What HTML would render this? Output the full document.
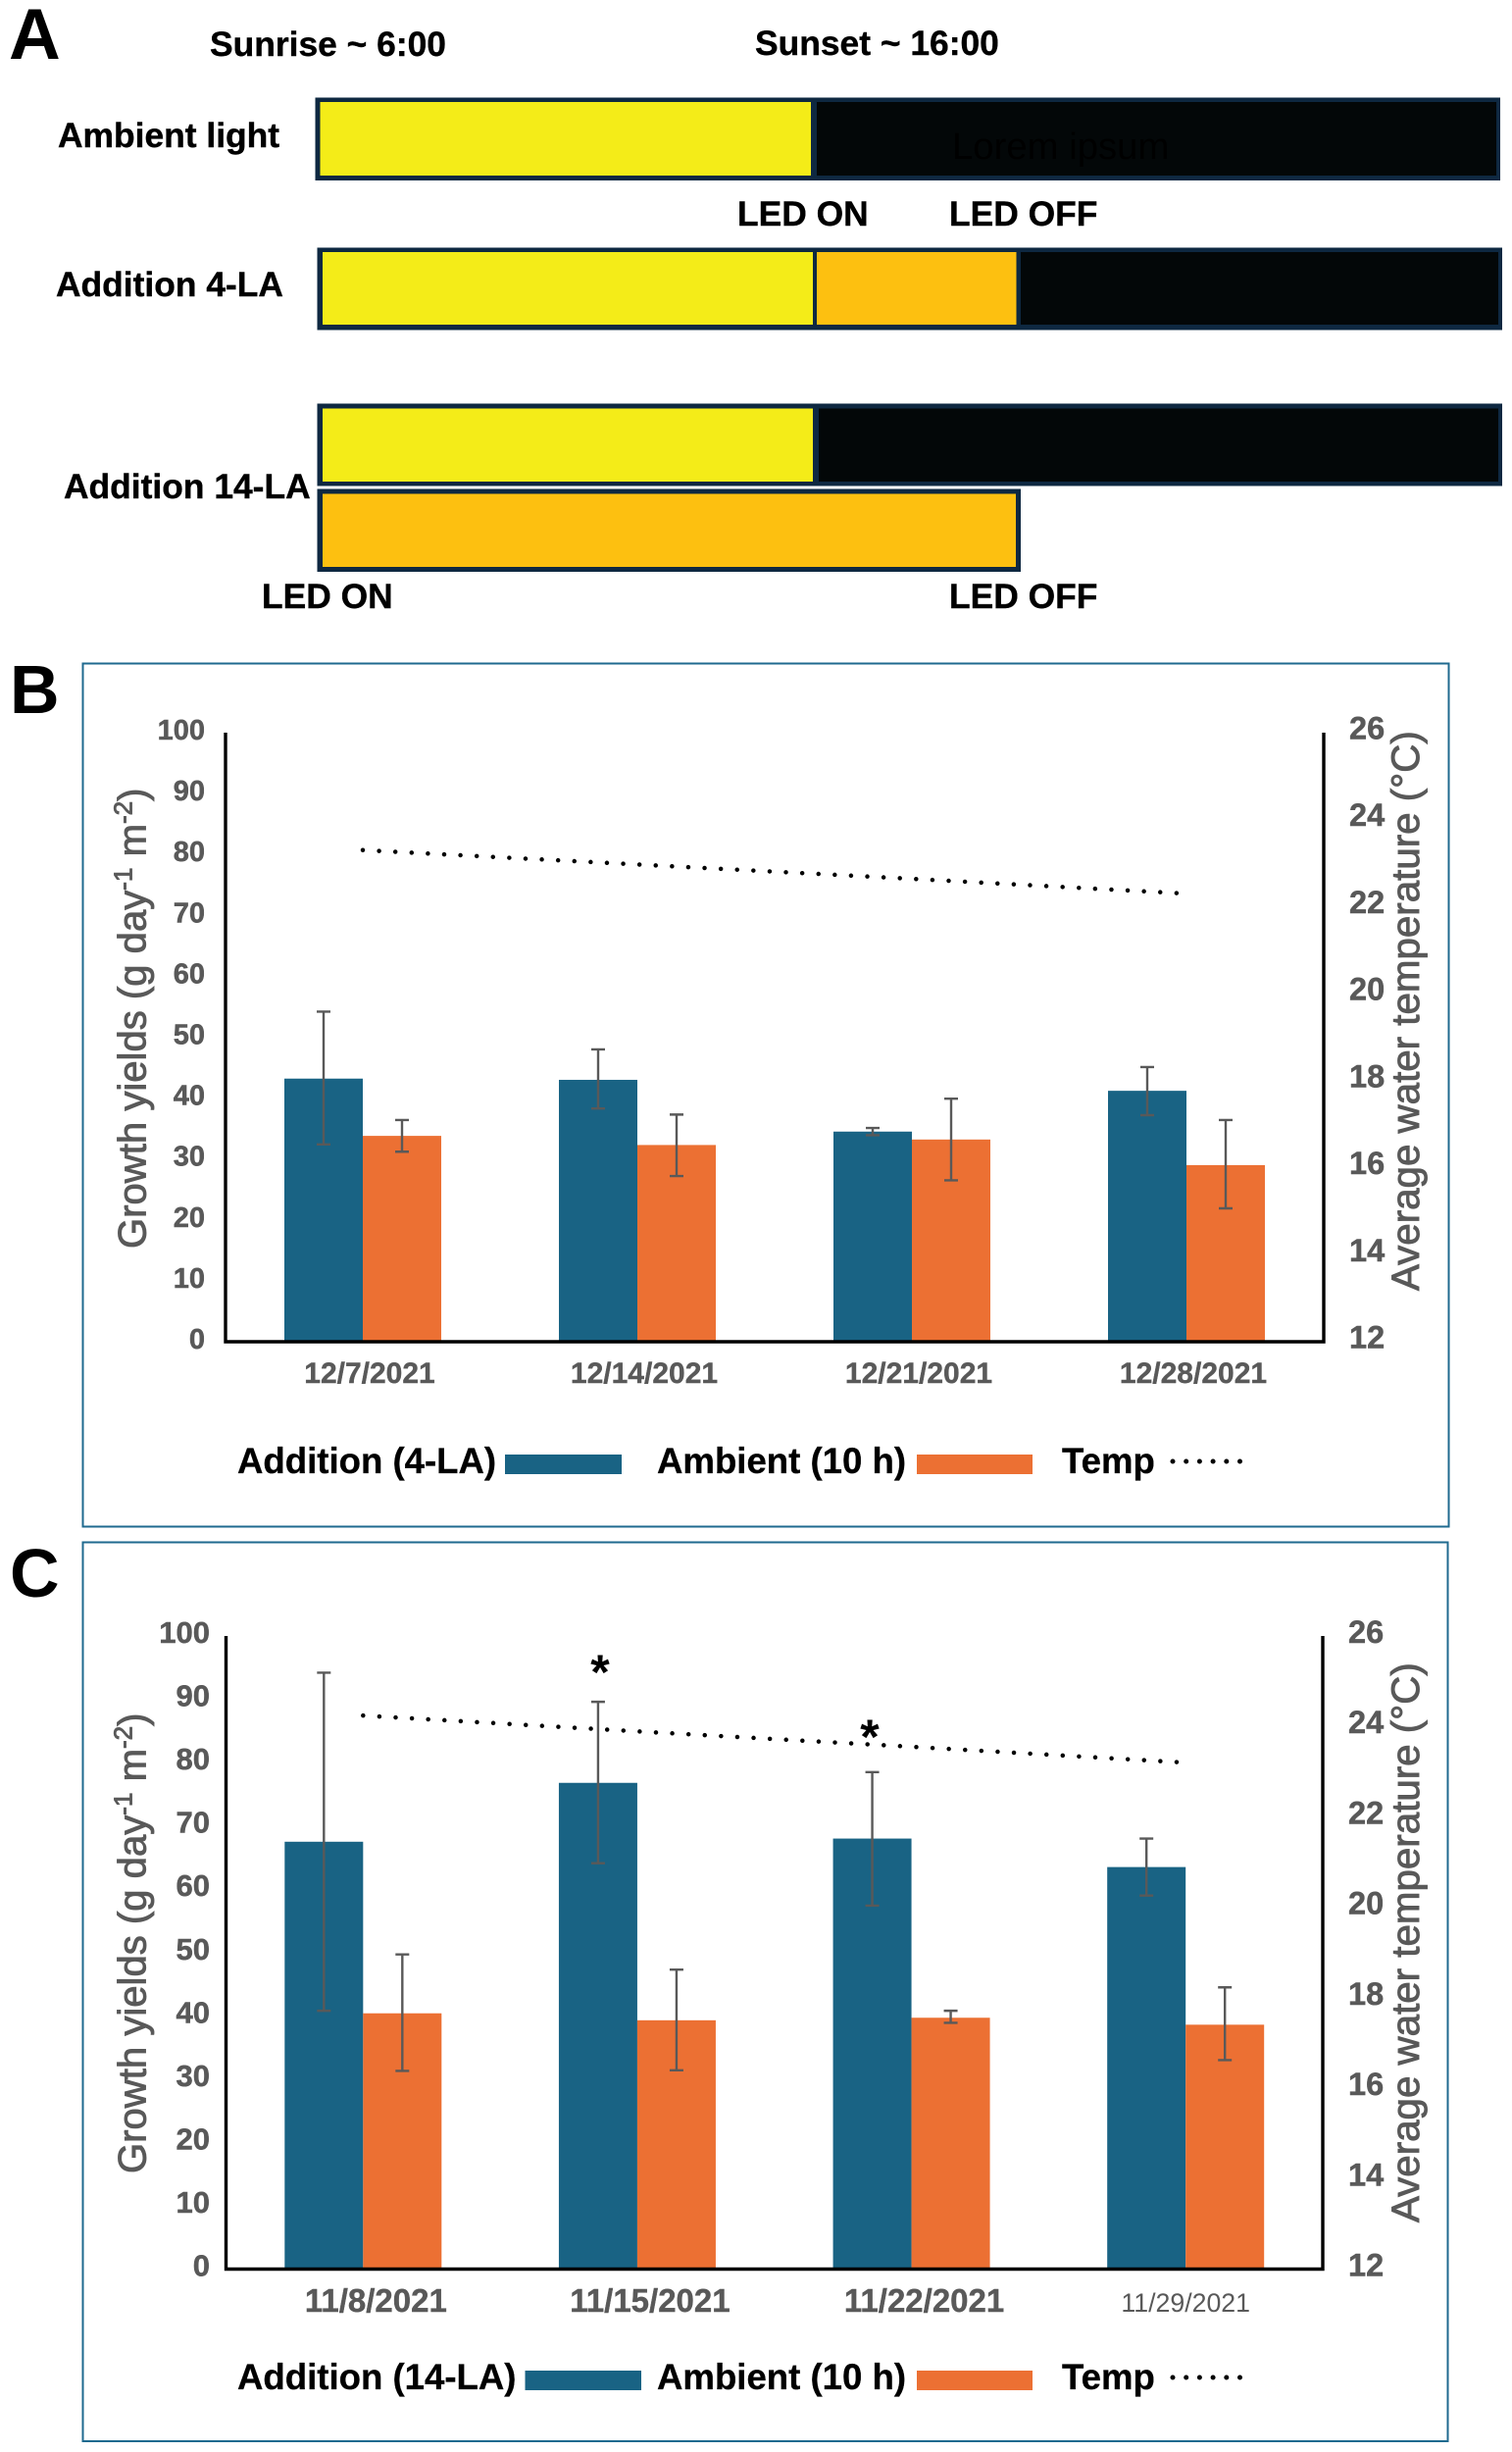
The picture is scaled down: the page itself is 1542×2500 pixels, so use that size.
<!DOCTYPE html>
<html lang="en">
<head>
<meta charset="utf-8">
<title>LED light addition and growth yields</title>
<style>
html,body{margin:0;padding:0;background:#fff;width:1542px;height:2500px;overflow:hidden}
svg{display:block}
text{font-family:"Liberation Sans",sans-serif}
.lab{font-weight:700;font-size:35.4px;fill:#000;stroke:#000;stroke-width:.4px}
.panel{font-weight:700;fill:#000}
.title{font-size:40.1px;fill:#595959;stroke:#595959;stroke-width:.9px}
.title-right{font-size:40.3px}
.leg{font-weight:700;font-size:36.6px;fill:#000;stroke:#000;stroke-width:.3px}
.tick{fill:#595959}
</style>
</head>
<body>
<svg id="figure" width="1542" height="2500" viewBox="0 0 1542 2500" xmlns="http://www.w3.org/2000/svg">
  <rect width="1542" height="2500" fill="#fff"/>

  <!-- Panel A -->
  <g>
    <text class="panel" x="9" y="60" font-size="73">A</text>
    <text class="lab" x="214" y="57">Sunrise ~ 6:00</text>
    <text class="lab" x="770" y="56">Sunset ~ 16:00</text>
    <text class="lab" x="59" y="150">Ambient light</text>
    <text class="lab" x="57" y="302">Addition 4-LA</text>
    <text class="lab" x="65" y="508">Addition 14-LA</text>
    <text class="lab" x="752" y="230">LED ON</text>
    <text class="lab" x="968" y="230">LED OFF</text>
    <text class="lab" x="267" y="620">LED ON</text>
    <text class="lab" x="968" y="620">LED OFF</text>

    <g>
      <rect x="321.5" y="99.5" width="1208.5" height="84.5" fill="#0e2841"/>
      <rect x="326.5" y="104" width="500.5" height="75" fill="#f4ec18"/>
      <rect x="833" y="104" width="693" height="75" fill="#030708"/>
      <text x="971" y="162" font-size="38.3" fill="#000">Lorem ipsum</text>
    </g>
    <g>
      <rect x="323.5" y="252.5" width="1208.5" height="84" fill="#0e2841"/>
      <rect x="329" y="257" width="500" height="74" fill="#f4ec18"/>
      <rect x="833" y="257" width="203.5" height="74" fill="#fdc010"/>
      <rect x="1041" y="257" width="487" height="74" fill="#030708"/>
    </g>
    <g>
      <rect x="323.5" y="411.5" width="1208.5" height="84" fill="#0e2841"/>
      <rect x="329" y="416.5" width="500" height="74.5" fill="#f4ec18"/>
      <rect x="835" y="416.5" width="693" height="74.5" fill="#030708"/>
    </g>
    <g>
      <rect x="323.5" y="498.5" width="717.5" height="84.5" fill="#0e2841"/>
      <rect x="329" y="503.5" width="707" height="74.5" fill="#fdc010"/>
    </g>
  </g>

  <!-- Panel B static -->
  <g id="panel-b">
    <rect x="84.5" y="676.5" width="1393" height="880" fill="none" stroke="#1f6a8f" stroke-width="2"/>
    <text class="panel" x="10" y="727" font-size="70">B</text>
    <text class="title" transform="translate(148.5 1273) rotate(-90)">Growth yields (g day<tspan dy="-14" font-size="26">-1</tspan><tspan dy="14"> m</tspan><tspan dy="-14" font-size="26">-2</tspan><tspan dy="14">)</tspan></text>
    <text class="title title-right" transform="translate(1447 1316) rotate(-90)">Average water temperature (°C)</text>
    <text class="leg" x="242" y="1502">Addition (4-LA)</text>
    <rect x="515" y="1483" width="119" height="20" fill="#196384"/>
    <text class="leg" x="670" y="1502">Ambient (10 h)</text>
    <rect x="935" y="1483" width="118" height="20" fill="#ec7033"/>
    <text class="leg" x="1083" y="1502">Temp</text>
    <line x1="1196" y1="1490" x2="1265" y2="1490" stroke="#000" stroke-width="5" stroke-linecap="round" stroke-dasharray="0 13.7"/>
  </g>

  <!-- Panel C static -->
  <g id="panel-c">
    <rect x="84.5" y="1572.5" width="1392" height="916.5" fill="none" stroke="#1f6a8f" stroke-width="2"/>
    <text class="panel" x="10" y="1628" font-size="70">C</text>
    <text class="title" transform="translate(148.5 2216) rotate(-90)">Growth yields (g day<tspan dy="-14" font-size="26">-1</tspan><tspan dy="14"> m</tspan><tspan dy="-14" font-size="26">-2</tspan><tspan dy="14">)</tspan></text>
    <text class="title title-right" transform="translate(1447 2266) rotate(-90)">Average water temperature (°C)</text>
    <text class="leg" x="242" y="2436">Addition (14-LA)</text>
    <rect x="535.5" y="2417" width="118.5" height="20" fill="#196384"/>
    <text class="leg" x="670" y="2436">Ambient (10 h)</text>
    <rect x="935" y="2417" width="118" height="20" fill="#ec7033"/>
    <text class="leg" x="1083" y="2436">Temp</text>
    <line x1="1196" y1="2424" x2="1265" y2="2424" stroke="#000" stroke-width="5" stroke-linecap="round" stroke-dasharray="0 13.7"/>
    <text x="612" y="1722" font-size="50" font-weight="700" text-anchor="middle" fill="#000">*</text>
    <text x="887" y="1788" font-size="50" font-weight="700" text-anchor="middle" fill="#000">*</text>
  </g>
</svg>

<script>
// Shared axis tick labels
const yieldTicks = [0, 10, 20, 30, 40, 50, 60, 70, 80, 90, 100];
const tempTicks = [12, 14, 16, 18, 20, 22, 24, 26];

// Panel B data
const bDates = ['12/7/2021', '12/14/2021', '12/21/2021', '12/28/2021'];
const bAddition = [43.2, 43.0, 34.5, 41.2];
const bAdditionLow = [32.4, 38.3, 33.9, 37.2];
const bAdditionHigh = [54.2, 48.0, 35.1, 45.1];
const bAmbient = [33.8, 32.3, 33.2, 29.0];
const bAmbientLow = [31.2, 27.2, 26.5, 21.9];
const bAmbientHigh = [36.4, 37.3, 39.9, 36.4];
const bTemp = [23.3, 22.97, 22.64, 22.3];

// Panel C data
const cDates = ['11/8/2021', '11/15/2021', '11/22/2021', '11/29/2021'];
const cAddition = [67.5, 76.8, 68.0, 63.5];
const cAdditionLow = [40.8, 64.1, 57.4, 59.0];
const cAdditionHigh = [94.2, 89.6, 78.5, 68.0];
const cAmbient = [40.4, 39.3, 39.7, 38.6];
const cAmbientLow = [31.3, 31.4, 38.9, 33.0];
const cAmbientHigh = [49.7, 47.3, 40.8, 44.5];
const cTemp = [24.24, 23.89, 23.55, 23.2];

const NS = 'http://www.w3.org/2000/svg';
function make(tag, parent, attrs, txt) {
  const el = document.createElementNS(NS, tag);
  for (const k in attrs) el.setAttribute(k, attrs[k]);
  if (txt !== undefined) el.textContent = txt;
  parent.appendChild(el);
  return el;
}

function drawChart(parent, prefix, L, d) {
  const yScale = v => L.base - v * (L.base - L.top) / 100;
  const tScale = t => L.base - (t - 12) * (L.base - L.top) / 14;
  const band = (L.right - L.left) / d.dates.length;
  const cx = i => L.left + band * (i + 0.5);

  // bars + error bars
  d.dates.forEach((date, i) => {
    const g = make('g', parent, {});
    
    

    const bar1 = make('rect', g, {x: cx(i) - L.barW, y: yScale(d.addition[i]), width: L.barW, height: L.base - yScale(d.addition[i]), fill: '#196384'});
    
    

    const bar2 = make('rect', g, {x: cx(i), y: yScale(d.ambient[i]), width: L.barW, height: L.base - yScale(d.ambient[i]), fill: '#ec7033'});
    
    

    const e1x = cx(i) - L.barW / 2;
    const e2x = cx(i) + L.barW / 2;
    const p1 = make('path', g, {d: 'M' + (e1x - 7) + ' ' + yScale(d.additionHigh[i]) + 'h14M' + e1x + ' ' + yScale(d.additionHigh[i]) + 'V' + yScale(d.additionLow[i]) + 'M' + (e1x - 7) + ' ' + yScale(d.additionLow[i]) + 'h14', fill: 'none', stroke: '#595959', 'stroke-width': 2.4});
    
    

    const p2 = make('path', g, {d: 'M' + (e2x - 7) + ' ' + yScale(d.ambientHigh[i]) + 'h14M' + e2x + ' ' + yScale(d.ambientHigh[i]) + 'V' + yScale(d.ambientLow[i]) + 'M' + (e2x - 7) + ' ' + yScale(d.ambientLow[i]) + 'h14', fill: 'none', stroke: '#595959', 'stroke-width': 2.4});
    
    

    const last = L.plainLast && i === d.dates.length - 1;
    const lab = make('text', parent, {class: 'tick', x: cx(i) + (last ? 0 : L.labelDx), y: L.labelY, 'text-anchor': 'middle', 'font-size': last ? 26.7 : L.labelSize, 'font-weight': last ? 400 : 700, stroke: last ? 'none' : '#595959', 'stroke-width': 0.4}, date);
    
    
  });

  // temperature line
  const pts = d.temp.map((t, i) => cx(i) + ' ' + tScale(t)).join(' L');
  const line = make('path', parent, {d: 'M' + pts, fill: 'none', stroke: '#000', 'stroke-width': 4.5, 'stroke-linecap': 'round', 'stroke-dasharray': '0 16.62'});
  
  

  // axes
  const axis = make('path', parent, {d: 'M' + L.left + ' ' + L.top + 'V' + L.base + 'H' + L.right + 'V' + L.top, fill: 'none', stroke: '#000', 'stroke-width': 3.4});
  
  

  // tick labels
  yieldTicks.forEach(v => {
    const t = make('text', parent, {class: 'tick', x: L.yTickX, y: yScale(v) + L.tickDy, 'text-anchor': 'end', 'font-size': L.yTickSize, 'font-weight': 700, stroke: '#595959', 'stroke-width': 0.5}, v);
    
    
  });
  tempTicks.forEach(v => {
    const t = make('text', parent, {class: 'tick', x: L.tTickX, y: tScale(v) + L.tempDy, 'font-size': 32.5, 'font-weight': 700, stroke: '#595959', 'stroke-width': 0.5}, v);
    
    
  });
}

drawChart(document.getElementById('panel-b'), 'panel-b',
  {left: 230, right: 1350, top: 747, base: 1368, barW: 80, labelY: 1410, labelDx: 7, labelSize: 30, yTickX: 209, yTickSize: 29, tTickX: 1376, tickDy: 7, tempDy: 6.5, plainLast: false},
  {dates: bDates, addition: bAddition, additionLow: bAdditionLow, additionHigh: bAdditionHigh, ambient: bAmbient, ambientLow: bAmbientLow, ambientHigh: bAmbientHigh, temp: bTemp});

drawChart(document.getElementById('panel-c'), 'panel-c',
  {left: 230.5, right: 1349, top: 1668, base: 2313.5, barW: 80, labelY: 2357, labelDx: 13, labelSize: 33, yTickX: 214, yTickSize: 31, tTickX: 1375, tickDy: 7, tempDy: 7, plainLast: true},
  {dates: cDates, addition: cAddition, additionLow: cAdditionLow, additionHigh: cAdditionHigh, ambient: cAmbient, ambientLow: cAmbientLow, ambientHigh: cAmbientHigh, temp: cTemp});
</script>
</body>
</html>
